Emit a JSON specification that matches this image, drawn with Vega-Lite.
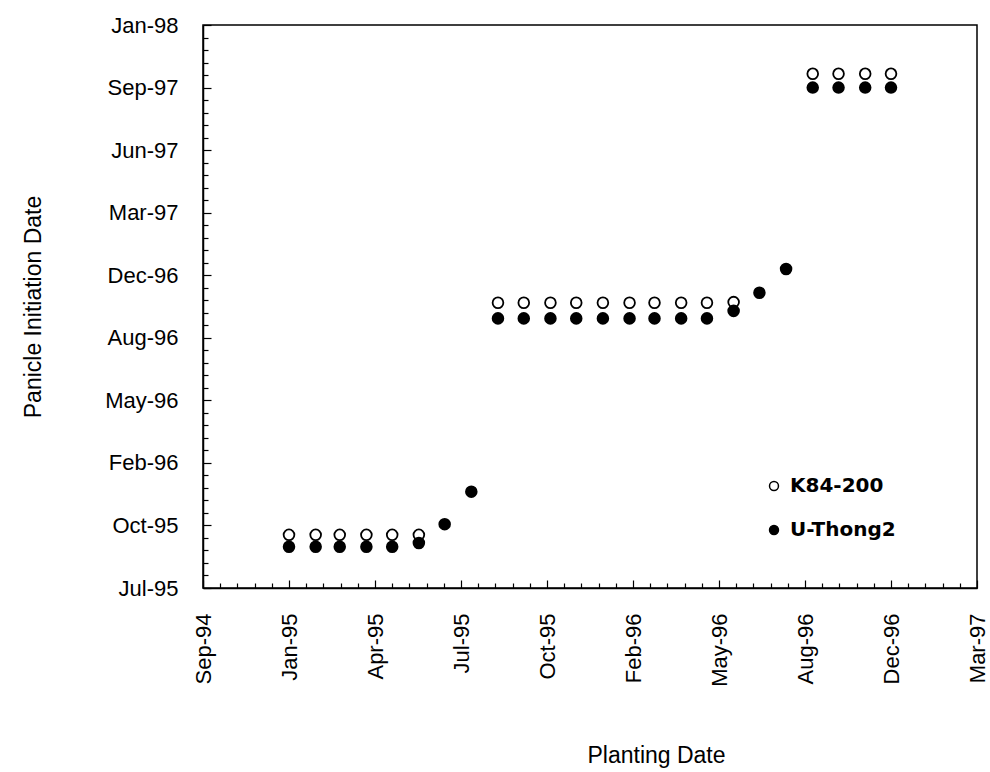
{
  "$schema": "https://vega.github.io/schema/vega-lite/v6.json",
  "width": 774,
  "height": 563,
  "autosize": {"type": "none"},
  "padding": {"left": 203, "top": 25, "right": 13, "bottom": 184},
  "background": "white",
  "config": {
    "view": {"stroke": "black", "strokeWidth": 1.5},
    "axis": {
      "grid": false,
      "domainColor": "black",
      "domainWidth": 1.5,
      "tickColor": "black",
      "tickWidth": 1.2,
      "labelColor": "black",
      "labelFont": "Liberation Sans",
      "labelFontSize": 22,
      "titleColor": "black",
      "titleFont": "Liberation Sans",
      "titleFontSize": 23,
      "titleFontWeight": "normal",
      "labelOverlap": false,
      "labelFlush": false
    }
  },
  "data": {
    "values": [
      {"variety": "K84-200", "planting": "1995-01-01", "pi": "1995-10-13"},
      {"variety": "K84-200", "planting": "1995-02-01", "pi": "1995-10-13"},
      {"variety": "K84-200", "planting": "1995-03-01", "pi": "1995-10-13"},
      {"variety": "K84-200", "planting": "1995-04-01", "pi": "1995-10-13"},
      {"variety": "K84-200", "planting": "1995-05-01", "pi": "1995-10-13"},
      {"variety": "K84-200", "planting": "1995-06-01", "pi": "1995-10-13"},
      {"variety": "K84-200", "planting": "1995-09-01", "pi": "1996-10-18"},
      {"variety": "K84-200", "planting": "1995-10-01", "pi": "1996-10-18"},
      {"variety": "K84-200", "planting": "1995-11-01", "pi": "1996-10-18"},
      {"variety": "K84-200", "planting": "1995-12-01", "pi": "1996-10-18"},
      {"variety": "K84-200", "planting": "1996-01-01", "pi": "1996-10-18"},
      {"variety": "K84-200", "planting": "1996-02-01", "pi": "1996-10-18"},
      {"variety": "K84-200", "planting": "1996-03-01", "pi": "1996-10-18"},
      {"variety": "K84-200", "planting": "1996-04-01", "pi": "1996-10-18"},
      {"variety": "K84-200", "planting": "1996-05-01", "pi": "1996-10-18"},
      {"variety": "K84-200", "planting": "1996-06-01", "pi": "1996-10-19"},
      {"variety": "K84-200", "planting": "1996-09-01", "pi": "1997-10-19"},
      {"variety": "K84-200", "planting": "1996-10-01", "pi": "1997-10-19"},
      {"variety": "K84-200", "planting": "1996-11-01", "pi": "1997-10-19"},
      {"variety": "K84-200", "planting": "1996-12-01", "pi": "1997-10-19"},
      {"variety": "U-Thong2", "planting": "1995-01-01", "pi": "1995-09-24"},
      {"variety": "U-Thong2", "planting": "1995-02-01", "pi": "1995-09-24"},
      {"variety": "U-Thong2", "planting": "1995-03-01", "pi": "1995-09-24"},
      {"variety": "U-Thong2", "planting": "1995-04-01", "pi": "1995-09-24"},
      {"variety": "U-Thong2", "planting": "1995-05-01", "pi": "1995-09-24"},
      {"variety": "U-Thong2", "planting": "1995-06-01", "pi": "1995-09-30"},
      {"variety": "U-Thong2", "planting": "1995-07-01", "pi": "1995-10-30"},
      {"variety": "U-Thong2", "planting": "1995-08-01", "pi": "1995-12-21"},
      {"variety": "U-Thong2", "planting": "1995-09-01", "pi": "1996-09-23"},
      {"variety": "U-Thong2", "planting": "1995-10-01", "pi": "1996-09-23"},
      {"variety": "U-Thong2", "planting": "1995-11-01", "pi": "1996-09-23"},
      {"variety": "U-Thong2", "planting": "1995-12-01", "pi": "1996-09-23"},
      {"variety": "U-Thong2", "planting": "1996-01-01", "pi": "1996-09-23"},
      {"variety": "U-Thong2", "planting": "1996-02-01", "pi": "1996-09-23"},
      {"variety": "U-Thong2", "planting": "1996-03-01", "pi": "1996-09-23"},
      {"variety": "U-Thong2", "planting": "1996-04-01", "pi": "1996-09-23"},
      {"variety": "U-Thong2", "planting": "1996-05-01", "pi": "1996-09-23"},
      {"variety": "U-Thong2", "planting": "1996-06-01", "pi": "1996-10-05"},
      {"variety": "U-Thong2", "planting": "1996-07-01", "pi": "1996-11-03"},
      {"variety": "U-Thong2", "planting": "1996-08-01", "pi": "1996-12-11"},
      {"variety": "U-Thong2", "planting": "1996-09-01", "pi": "1997-09-27"},
      {"variety": "U-Thong2", "planting": "1996-10-01", "pi": "1997-09-27"},
      {"variety": "U-Thong2", "planting": "1996-11-01", "pi": "1997-09-27"},
      {"variety": "U-Thong2", "planting": "1996-12-01", "pi": "1997-09-27"}
    ]
  },
  "mark": {"type": "point", "shape": "circle", "filled": true, "stroke": "black", "strokeWidth": 1.8, "size": 115, "opacity": 1},
  "encoding": {
    "x": {
      "field": "planting",
      "type": "temporal",
      "title": "Planting Date",
      "scale": {"type": "utc", "domain": [780278400000, 858038400000], "nice": false},
      "axis": {
        "values": [780278400000, 782006400000, 783734400000, 785462400000, 787190400000, 788918400000, 790646400000, 792374400000, 794102400000, 795830400000, 797558400000, 799286400000, 801014400000, 802742400000, 804470400000, 806198400000, 807926400000, 809654400000, 811382400000, 813110400000, 814838400000, 816566400000, 818294400000, 820022400000, 821750400000, 823478400000, 825206400000, 826934400000, 828662400000, 830390400000, 832118400000, 833846400000, 835574400000, 837302400000, 839030400000, 840758400000, 842486400000, 844214400000, 845942400000, 847670400000, 849398400000, 851126400000, 852854400000, 854582400000, 856310400000, 858038400000],
        "labelExpr": "((datum.value - 780278400000) % 8640000000 === 0) ? utcFormat(datum.value, '%b-%y') : ''",
        "labelAngle": -90,
        "labelAlign": "right",
        "labelBaseline": "middle",
        "labelPadding": 33,
        "tickSize": {"condition": {"test": "(datum.value - 780278400000) % 8640000000 === 0", "value": -8}, "value": -5},
        "titleX": 453,
        "titleY": 174,
        "titleBaseline": "alphabetic"
      }
    },
    "y": {
      "field": "pi",
      "type": "temporal",
      "title": "Panicle Initiation Date",
      "scale": {"type": "utc", "domain": [806198400000, 883958400000], "nice": false},
      "axis": {
        "values": [806198400000, 807926400000, 809654400000, 811382400000, 813110400000, 814838400000, 816566400000, 818294400000, 820022400000, 821750400000, 823478400000, 825206400000, 826934400000, 828662400000, 830390400000, 832118400000, 833846400000, 835574400000, 837302400000, 839030400000, 840758400000, 842486400000, 844214400000, 845942400000, 847670400000, 849398400000, 851126400000, 852854400000, 854582400000, 856310400000, 858038400000, 859766400000, 861494400000, 863222400000, 864950400000, 866678400000, 868406400000, 870134400000, 871862400000, 873590400000, 875318400000, 877046400000, 878774400000, 880502400000, 882230400000, 883958400000],
        "labelExpr": "((datum.value - 780278400000) % 8640000000 === 0) ? utcFormat(datum.value, '%b-%y') : ''",
        "labelPadding": 33,
        "tickSize": {"condition": {"test": "(datum.value - 780278400000) % 8640000000 === 0", "value": -8}, "value": -5},
        "titleAngle": -90,
        "titleX": -163,
        "titleBaseline": "alphabetic"
      }
    },
    "fill": {
      "field": "variety",
      "type": "nominal",
      "scale": {"domain": ["K84-200", "U-Thong2"], "range": ["white", "black"]},
      "legend": {
        "title": null,
        "orient": "none",
        "legendX": 561,
        "legendY": 451,
        "padding": 0,
        "symbolType": "circle",
        "symbolSize": 80,
        "symbolStrokeColor": "black",
        "symbolStrokeWidth": 1.5,
        "labelFont": "DejaVu Sans",
        "labelFontSize": 20,
        "labelFontWeight": "bold",
        "labelColor": "black",
        "labelOffset": 6,
        "rowPadding": 24
      }
    }
  }
}
